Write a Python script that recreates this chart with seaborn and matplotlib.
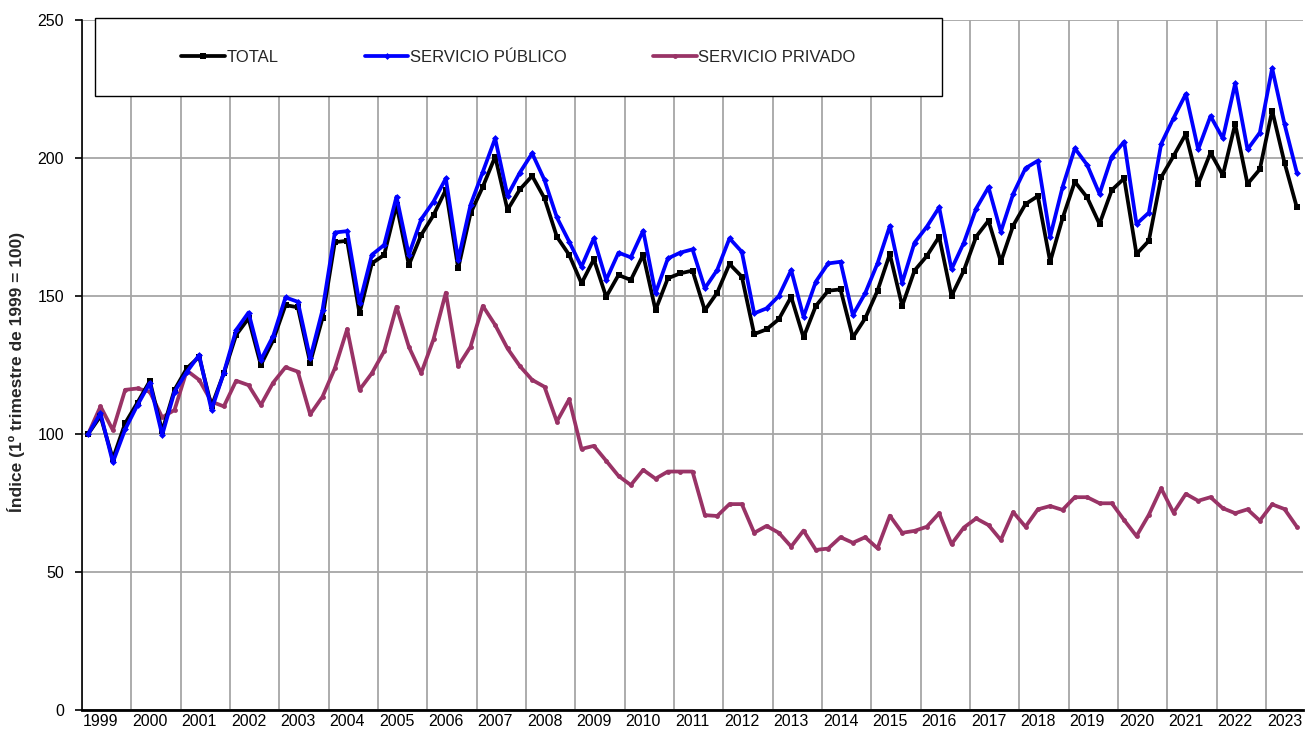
import numpy as np
import matplotlib
matplotlib.use("Agg")
import matplotlib.pyplot as plt
import seaborn as sns
from matplotlib.patches import Rectangle

# Quarterly index, 1st quarter 1999 = 100 (1999 T1 .. 2023 T3)
years = list(range(1999, 2024))

total = [
    100, 106.5, 91, 103.9, 111.4, 119.2, 101, 116, 123.8, 128,
    110, 122, 135.9, 141.9, 125, 134, 146.7, 145.9, 125.8, 142,
    169.5, 170, 143.7, 161.8, 164.9, 183, 161.2, 172.1, 179.3, 188.5,
    160, 179.9, 189.6, 200.5, 181.2, 188.6, 193.5, 185.4, 171.5, 164.9,
    154.6, 163.3, 149.7, 157.6, 155.8, 164.9, 144.9, 156.4, 158.2, 159.2,
    144.8, 151.2, 161.6, 157, 136.2, 137.9, 141.6, 149.7, 135, 146.4,
    151.9, 152.4, 135, 141.9, 151.9, 165.2, 146.4, 159.2, 164.5, 171.5,
    150, 159.2, 171.5, 177.3, 162.4, 175.5, 183.3, 186.2, 162.4, 178.1,
    191.4, 185.7, 176.1, 188.4, 192.6, 165.2, 170, 193, 200.7, 208.7,
    190.6, 201.9, 193.8, 212.3, 190.6, 195.9, 217.2, 198.3, 182.1,
]

publico = [
    100, 107.5, 89.7, 101.7, 110.5, 118.5, 99.6, 115.3, 122.5, 128.6,
    108.7, 122.2, 137.7, 144, 126.8, 135.5, 149.5, 147.9, 127.4, 144.9,
    173, 173.5, 147.3, 164.9, 168.5, 186, 164.9, 177.8, 184.2, 192.6,
    163, 183, 195, 207.1, 186.4, 194.7, 201.7, 192, 178.5, 169.7,
    160.6, 170.9, 155.8, 165.7, 164, 173.7, 151, 163.6, 165.7, 166.9,
    152.8, 159.4, 170.9, 166, 143.7, 145.5, 150, 159.4, 142.5, 155.2,
    161.8, 162.4, 143.1, 151, 161.8, 175.4, 154.8, 169.3, 175.1, 182.1,
    159.7, 169.3, 181.7, 189.4, 173.3, 187, 196.3, 199, 171.5, 189.4,
    203.5, 197.5, 187, 200.5, 205.9, 176.1, 180.2, 205.1, 214.4, 223.2,
    203.1, 215.2, 207.1, 227, 203.1, 209.2, 232.5, 212.3, 194.7,
]

privado = [
    100, 110, 101.4, 116, 116.5, 115.3, 106, 108.7, 123, 119.6,
    111.7, 110, 119.3, 117.7, 110.5, 118.6, 124.2, 122.6, 107.1, 113.5,
    123.8, 138, 116, 122, 130, 146.1, 131.6, 122, 134.3, 151.2,
    124.6, 131.6, 146.4, 139.5, 131, 124.6, 119.6, 117.1, 104.5, 112.6,
    94.6, 95.7, 90.3, 84.8, 81.5, 87, 83.8, 86.4, 86.4, 86.4,
    70.6, 70.3, 74.6, 74.6, 64.2, 66.7, 64.2, 59.2, 65, 58,
    58.5, 62.6, 60.6, 62.6, 58.6, 70.4, 64.2, 64.9, 66.4, 71.3,
    60.1, 66.1, 69.4, 67, 61.6, 71.7, 66.4, 72.7, 73.9, 72.5,
    77.1, 77.1, 74.9, 74.9, 68.8, 63, 70.7, 80.3, 71.5, 78.3,
    75.8, 77.1, 73.1, 71.3, 72.7, 68.6, 74.5, 72.8, 66.4,
]

sns.set_theme(style="white")
plt.rcParams["font.family"] = ["Liberation Sans", "DejaVu Sans"]

q = np.arange(len(total))

fig = plt.figure(figsize=(13.06, 7.31), dpi=100)
ax = fig.add_axes([82 / 1306, 1 - 710 / 731, 1221 / 1306, 690 / 731])

sns.lineplot(x=q, y=total, ax=ax, color="black", linewidth=2.7,
             marker="s", markersize=4, markeredgewidth=0, label="TOTAL", zorder=3)
sns.lineplot(x=q, y=publico, ax=ax, color="#0000FF", linewidth=2.7,
             marker="D", markersize=3.5, markeredgewidth=0, label="SERVICIO PÚBLICO", zorder=4)
sns.lineplot(x=q, y=privado, ax=ax, color="#993366", linewidth=2.7,
             marker="o", markersize=3.5, markeredgewidth=0, label="SERVICIO PRIVADO", zorder=2)

ax.set_xlim(-0.5, len(total) - 0.5)
ax.set_ylim(0, 250)
ax.set_yticks(range(0, 251, 50))

# year separators as major ticks, year labels as minor ticks
ax.set_xticks([4 * k - 0.5 for k in range(len(years))])
ax.set_xticklabels([])
ax.set_xticks([4 * k + 1 for k in range(len(years))], minor=True)
ax.set_xticklabels([str(y) for y in years], minor=True)
ax.tick_params(axis="x", which="both", length=0, labelsize=11.5, pad=3, colors="black")
ax.tick_params(axis="y", length=5, width=1.2, direction="out", labelsize=11.5,
               pad=8, colors="black", left=True)

ax.grid(True, which="major", color="#a6a6a6", linewidth=1.3)
ax.set_axisbelow(True)
for side in ["top", "right"]:
    ax.spines[side].set_visible(False)
ax.spines["left"].set_color("black")
ax.spines["left"].set_linewidth(1.2)
ax.spines["bottom"].set_color("black")
ax.spines["bottom"].set_linewidth(2)

ax.set_xlabel("")
ax.set_ylabel("Índice (1º trimestre de 1999 = 100)", fontsize=12.5, fontweight="bold")
ax.yaxis.set_label_coords(-0.047, 0.49)

# legend box
x0, x1 = (95 - 82) / 1221, (942 - 82) / 1221
y0, y1 = 1 - (96 - 20) / 690, 1 + 2 / 690
ax.add_patch(Rectangle((x0, y0), x1 - x0, y1 - y0, transform=ax.transAxes,
                       facecolor="white", edgecolor="black", linewidth=1,
                       clip_on=False, zorder=5))
leg = ax.legend(loc="center", bbox_to_anchor=((x0 + x1) / 2, (y0 + y1) / 2),
                ncol=3, frameon=False, fontsize=12, handlelength=2.6,
                handletextpad=0.1, columnspacing=5.2)
leg.set_zorder(6)

fig.savefig("out.png", dpi=100)
